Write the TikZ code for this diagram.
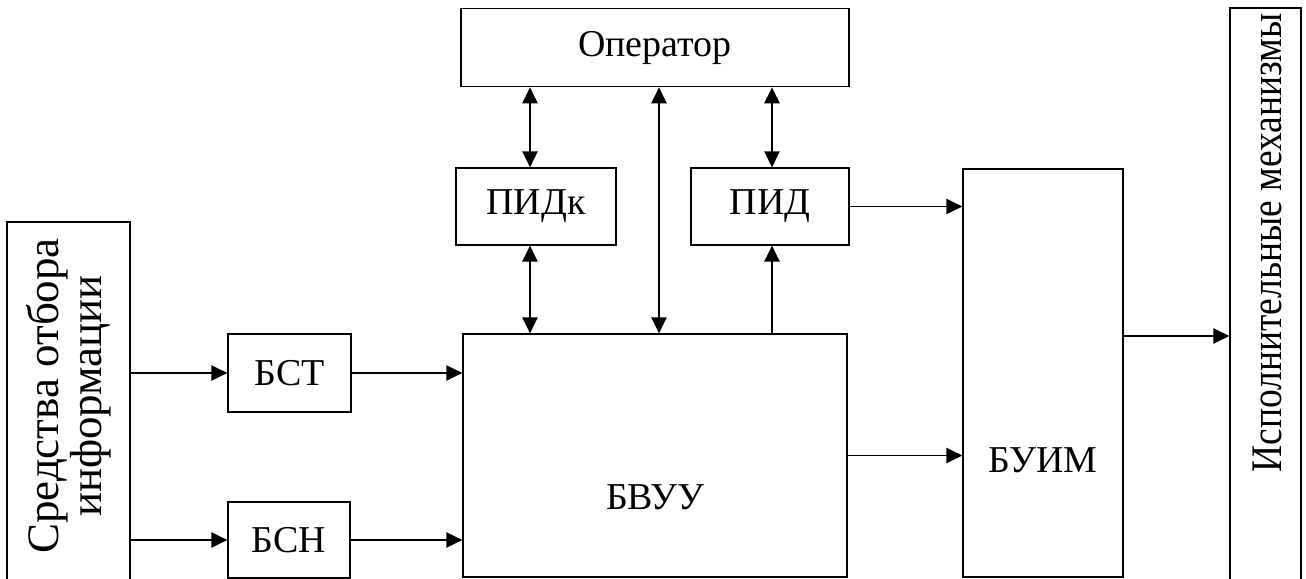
\documentclass[tikz,border=0pt]{standalone}
\usepackage{fontspec}
\setmainfont{Liberation Serif}
\usetikzlibrary{arrows.meta, positioning}

\begin{document}
\begin{tikzpicture}[
            blk/.style={draw=black, line width=0.9pt, minimum width=3cm, minimum height=1.95cm, align=center, font=\fontsize{27}{30}\selectfont},
            arrow/.style={-{Triangle[length=4mm, width=3.8mm]}, line width=1.4pt},
            dblarrow/.style={{Triangle[length=4mm, width=3.8mm]}-{Triangle[length=4mm, width=3.8mm]}, line width=1.4pt},
            vtext/.style={rotate=90, align=center, font=\fontsize{32}{31}\selectfont}
        ]
            \useasboundingbox (0,0) rectangle (32.65,-14.475);

            % Central computing block and operator
            \node[blk, minimum width=9.6cm, minimum height=6.075cm] (bvuu) at (16.375,-11.3875) {};
            \node[font=\fontsize{27}{30}\selectfont] (bvuutxt) at ([yshift=-1.05cm]bvuu.center) {БВУУ};
            \node[blk, minimum width=9.7cm, above=6.15cm of bvuu] (oper) {Оператор};

            % Interface blocks
            \node[blk, minimum width=4cm, minimum height=1.925cm] (pidk) at (13.4,-5.1625) {ПИДк};
            \node[blk, minimum width=3.95cm, minimum height=1.925cm] (pid) at (19.25,-5.1625) {ПИД};

            % Signal conditioning blocks
            \node[blk, minimum width=3.075cm] (bst) at (7.2375,-9.325) {БСТ};
            \node[blk, minimum width=3.05cm, minimum height=1.9cm] (bsn) at (7.225,-13.5) {БСН};

            % Sources and actuators
            \node[blk, minimum width=3.075cm, minimum height=9.45cm] (src) at (1.7125,-10.275) {};
            \node[vtext] (srctxt) at ([yshift=0.375cm]src.center) {Средства отбора\\информации};
            \node[blk, minimum width=4cm, minimum height=10.2cm] (buim) at (26.075,-9.325) {};
            \node[font=\fontsize{27}{30}\selectfont] (buimtxt) at ([yshift=-2.175cm]buim.center) {БУИМ};
            \node[blk, minimum width=1.775cm, minimum height=14.8cm] (isp) at (31.6375,-7.6) {};
            \node[vtext, xscale=0.86, font=\fontsize{31}{34}\selectfont] (isptxt) at (31.675,-6.075) {Исполнительные механизмы};

            % Connections
            \draw[arrow] (src.east |- bst) -- (bst);
            \draw[arrow] (src.east |- bsn) -- (bsn);
            \draw[arrow] (bst) -- (bst -| bvuu.west);
            \draw[arrow] (bsn) -- (bsn -| bvuu.west);

            \draw[dblarrow] ([xshift=-0.15cm]pidk.north |- oper.south) -- ([xshift=-0.15cm]pidk.north);
            \draw[dblarrow] ([xshift=-0.15cm]pidk.south) -- ([xshift=-0.15cm]pidk.south |- bvuu.north);
            \draw[dblarrow] ([xshift=0.1cm]oper.south) -- ([xshift=0.1cm]bvuu.north);
            \draw[dblarrow] ([xshift=0.05cm]pid.north |- oper.south) -- ([xshift=0.05cm]pid.north);
            \draw[arrow] ([xshift=0.05cm]pid.south |- bvuu.north) -- ([xshift=0.05cm]pid.south);

            \draw[arrow] (pid) -- (pid -| buim.west);
            \draw[arrow] (bvuu) -- (bvuu -| buim.west);
            \draw[arrow] ([yshift=0.925cm]buim.east) -- ([yshift=0.925cm]buim.east -| isp.west);

        \end{tikzpicture}
\end{document}
